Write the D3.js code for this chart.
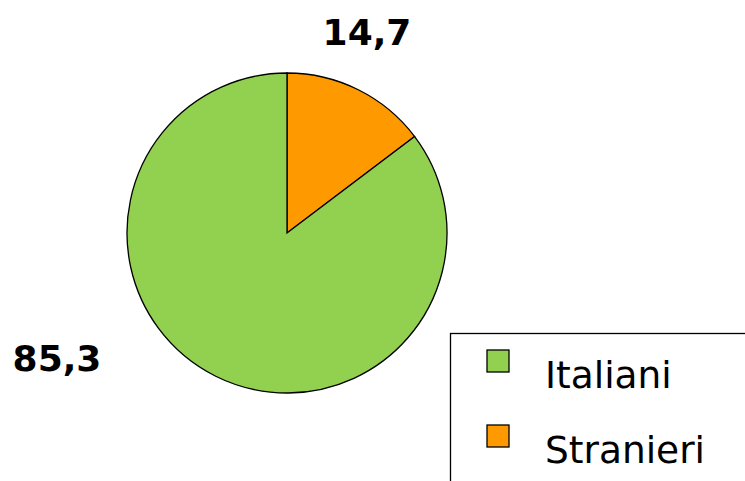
<!DOCTYPE html>
<html><head><meta charset="utf-8">
<script src="https://cdn.jsdelivr.net/npm/d3@7"></script>
<style>body{margin:0;background:#fff}</style>
</head><body>
<svg id="chart" width="745" height="481"></svg>
<script>
const categories = ["Stranieri", "Italiani"];
const values = [14.7, 85.3];
const labels = ["14,7", "85,3"];
const colors = ["#FF9900", "#92D050"];

const svg = d3.select("#chart");
const cx = 287, cy = 233, r = 160;

const pie = d3.pie().sort(null).value(d => d)(values);
const arc = d3.arc().innerRadius(0).outerRadius(r);

const g = svg.append("g").attr("transform", `translate(${cx},${cy})`);
g.selectAll("path").data(pie).join("path")
  .attr("d", arc)
  .attr("fill", (d, i) => colors[i])
  .attr("stroke", "#000").attr("stroke-width", 1.3);

// data labels
const labelPos = [[367, 45], [57, 371]];
svg.selectAll("text.lbl").data(labels).join("text")
  .attr("class", "lbl")
  .attr("x", (d, i) => labelPos[i][0]).attr("y", (d, i) => labelPos[i][1])
  .attr("text-anchor", "middle")
  .style("font", "bold 36px 'DejaVu Sans', sans-serif")
  .text(d => d);

// legend
svg.append("rect").attr("x", 450.5).attr("y", 333.5).attr("width", 300).attr("height", 160)
  .attr("fill", "#fff").attr("stroke", "#000").attr("stroke-width", 1.3);
const legendOrder = [1, 0];
const lg = svg.selectAll("g.leg").data(legendOrder).join("g")
  .attr("class", "leg")
  .attr("transform", (d, i) => `translate(487,${350 + i * 75})`);
lg.append("rect").attr("width", 22).attr("height", 22)
  .attr("fill", d => colors[d]).attr("stroke", "#000").attr("stroke-width", 1.3);
lg.append("text").attr("x", 58).attr("y", 38)
  .style("font", "37.5px 'DejaVu Sans', sans-serif")
  .text(d => categories[d]);
</script>
</body></html>
